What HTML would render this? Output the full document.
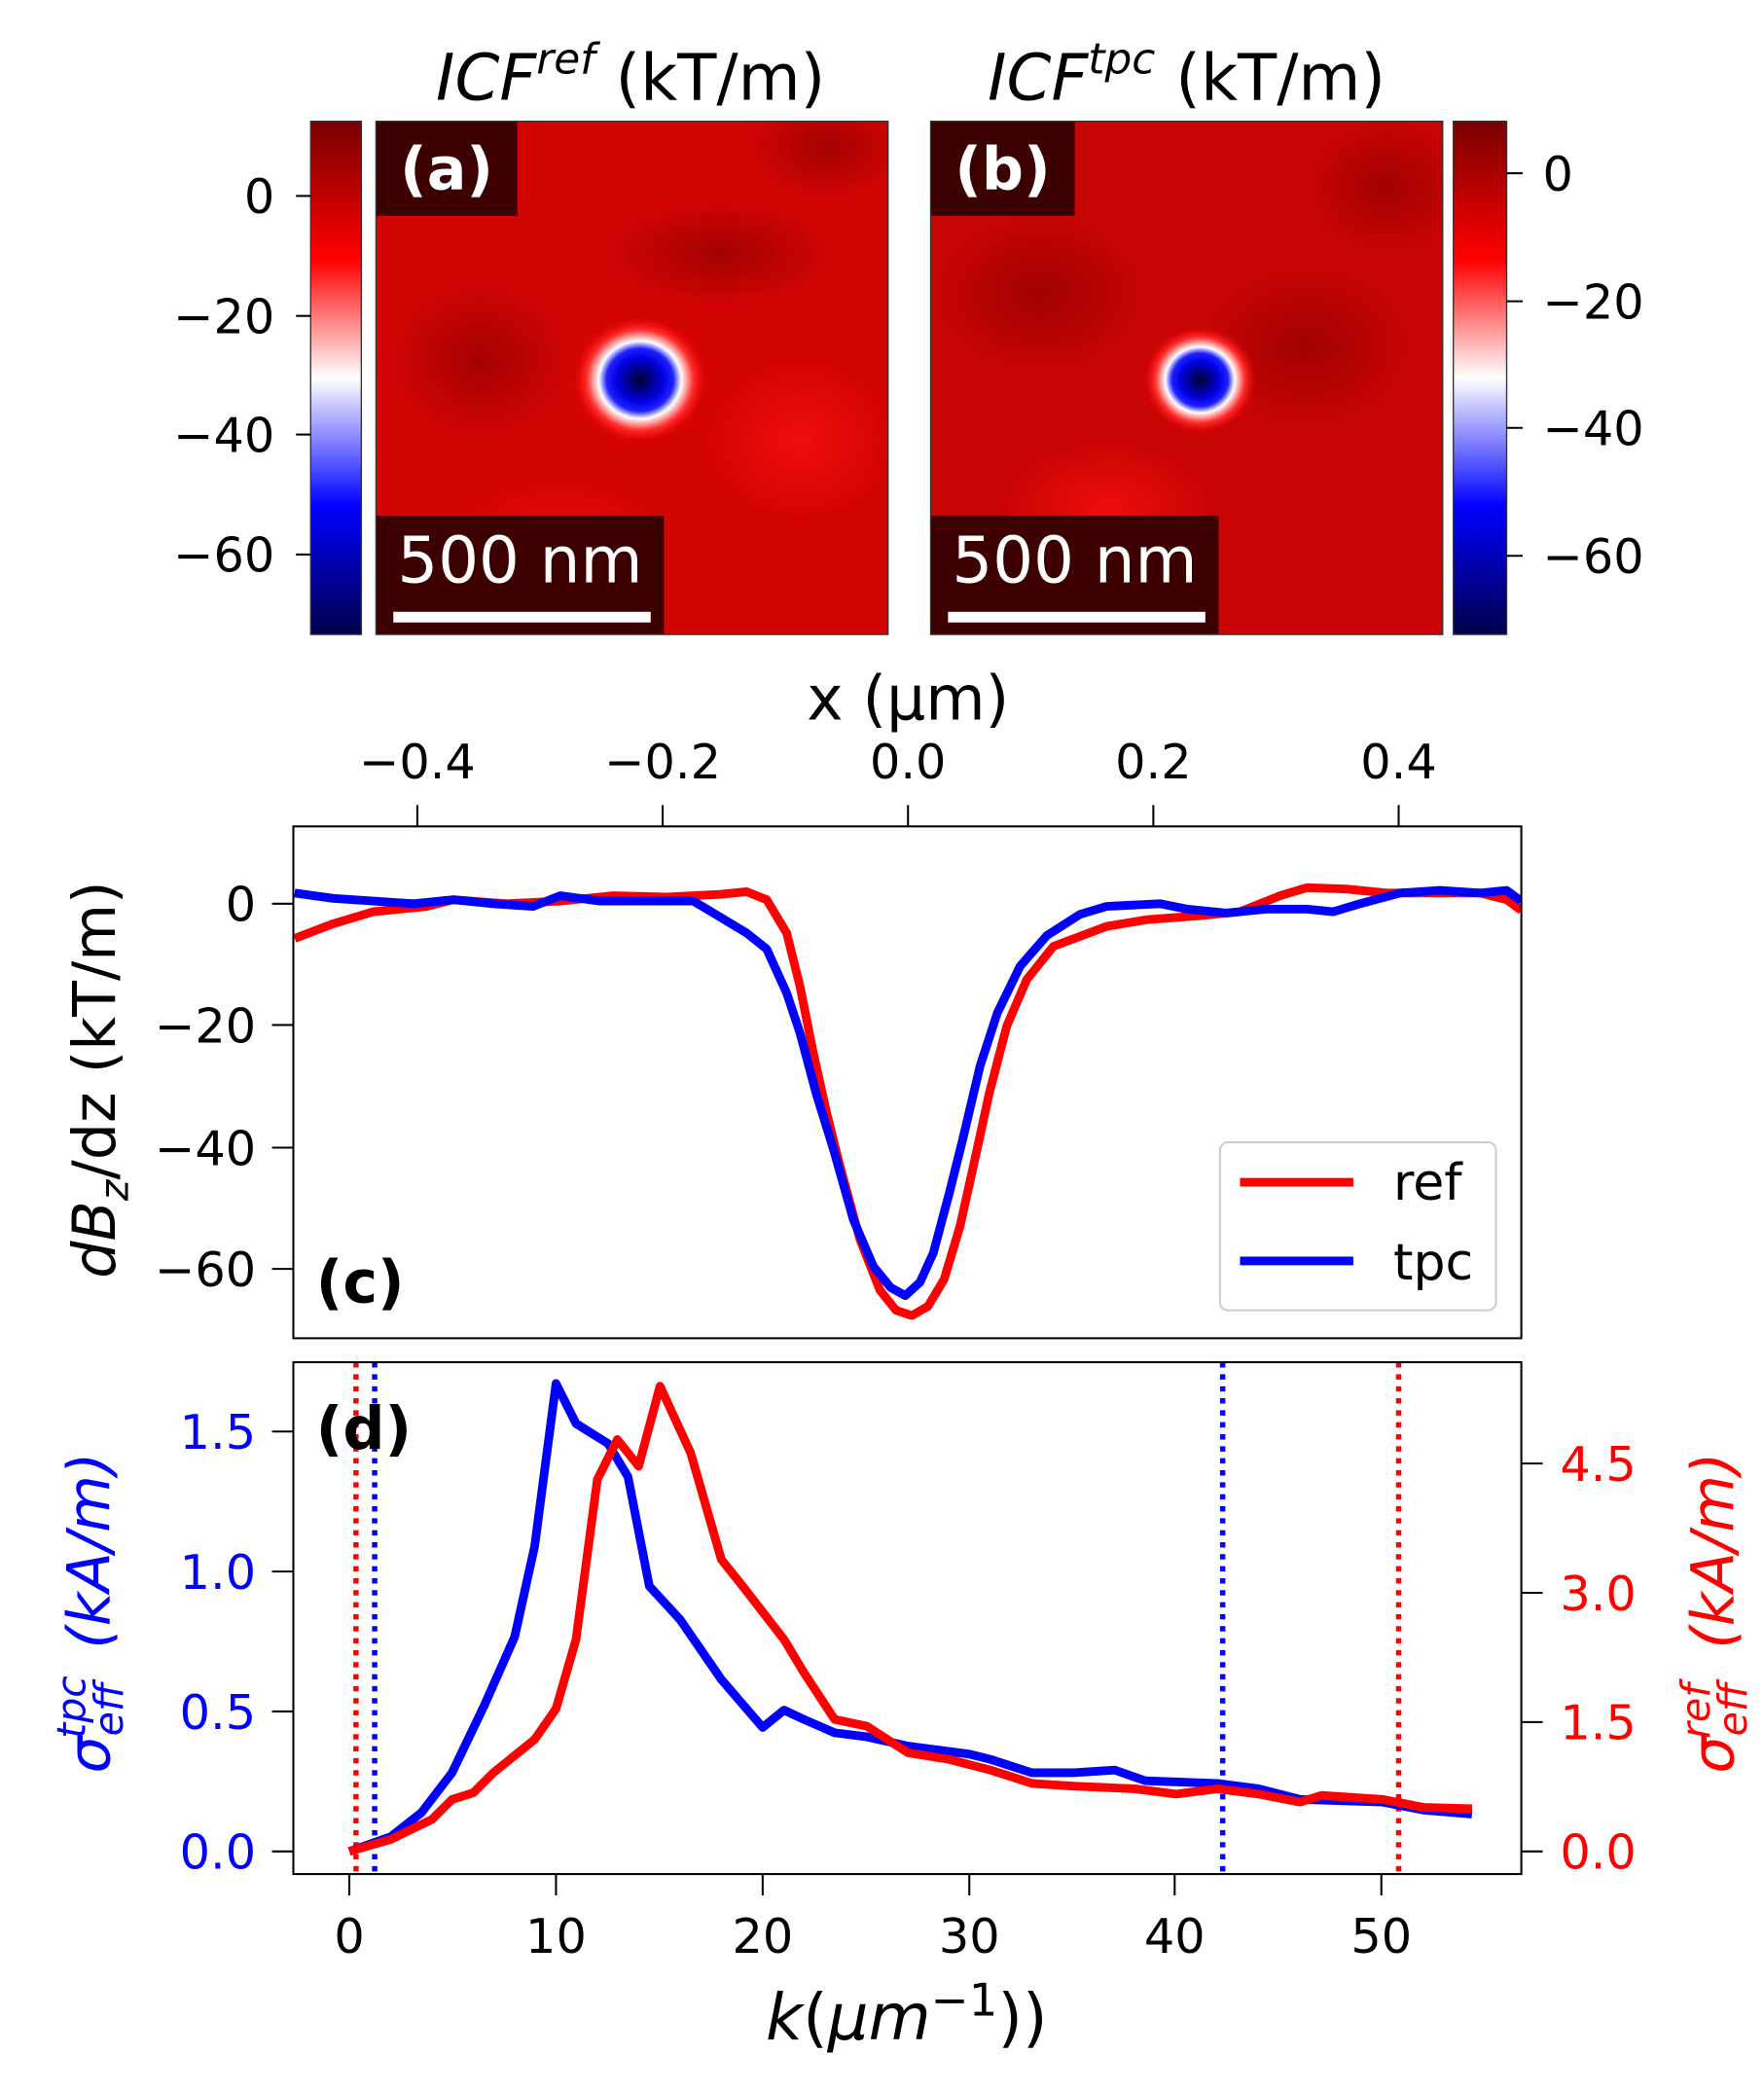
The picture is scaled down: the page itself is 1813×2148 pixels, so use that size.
<!DOCTYPE html>
<html><head><meta charset="utf-8"><style>
html,body{margin:0;padding:0;background:#fff}
svg{display:block}
text{font-family:"DejaVu Sans","Liberation Sans",sans-serif}
</style></head><body>
<svg width="1813" height="2148" viewBox="0 0 1323 1568" preserveAspectRatio="none" xmlns="http://www.w3.org/2000/svg">
<defs>
<linearGradient id="cb" x1="0" y1="0" x2="0" y2="1">
<stop offset="0" stop-color="#7a0000"/><stop offset="0.27" stop-color="#ff0000"/>
<stop offset="0.5" stop-color="#ffffff"/><stop offset="0.75" stop-color="#0000ff"/>
<stop offset="1" stop-color="#00004a"/></linearGradient>
<radialGradient id="dot">
<stop offset="0" stop-color="#000030"/><stop offset="0.35" stop-color="#0000e0"/>
<stop offset="0.5" stop-color="#2020ff"/><stop offset="0.62" stop-color="#ffffff"/>
<stop offset="0.8" stop-color="#ff3030"/><stop offset="1" stop-color="#ff0000" stop-opacity="0"/></radialGradient>
<radialGradient id="dk"><stop offset="0" stop-color="#900000" stop-opacity="0.7"/><stop offset="1" stop-color="#900000" stop-opacity="0"/></radialGradient>
<radialGradient id="lt"><stop offset="0" stop-color="#ff1010" stop-opacity="0.7"/><stop offset="1" stop-color="#ff1010" stop-opacity="0"/></radialGradient>
<clipPath id="ca"><rect x="282" y="91" width="384" height="385"/></clipPath>
<clipPath id="cbb"><rect x="698" y="91" width="384" height="385"/></clipPath>
</defs>

<!-- titles -->
<text x="473" y="75" font-size="48" text-anchor="middle"><tspan font-style="italic">ICF</tspan><tspan font-style="italic" font-size="32" dy="-20">ref</tspan><tspan dy="20"> (kT/m)</tspan></text>
<text x="890" y="75" font-size="48" text-anchor="middle"><tspan font-style="italic">ICF</tspan><tspan font-style="italic" font-size="32" dy="-20">tpc</tspan><tspan dy="20"> (kT/m)</tspan></text>

<!-- left colorbar -->
<rect x="233" y="91" width="38" height="385" fill="url(#cb)" stroke="#333" stroke-width="1"/>
<g stroke="#000" stroke-width="1.5"><line x1="222" y1="147" x2="233" y2="147"/><line x1="222" y1="237" x2="233" y2="237"/><line x1="222" y1="326" x2="233" y2="326"/><line x1="222" y1="416" x2="233" y2="416"/></g>
<g font-size="36" text-anchor="end"><text x="206" y="160">0</text><text x="206" y="250">−20</text><text x="206" y="339">−40</text><text x="206" y="429">−60</text></g>

<!-- image a -->
<g clip-path="url(#ca)">
<rect x="282" y="91" width="384" height="385" fill="#d20404"/>
<ellipse cx="540" cy="190" rx="90" ry="40" fill="url(#dk)"/>
<ellipse cx="360" cy="270" rx="70" ry="60" fill="url(#dk)"/>
<ellipse cx="620" cy="110" rx="60" ry="40" fill="url(#dk)"/>
<ellipse cx="420" cy="410" rx="80" ry="50" fill="url(#lt)"/>
<ellipse cx="600" cy="330" rx="70" ry="60" fill="url(#lt)"/>
<ellipse cx="480" cy="285" rx="50" ry="47" fill="url(#dot)"/>
<rect x="282" y="91" width="106" height="71" fill="#3d0000"/>
<text x="335" y="142" font-size="44" font-weight="bold" fill="#fff" text-anchor="middle">(a)</text>
<rect x="282" y="387" width="216" height="89" fill="#3d0000"/>
<text x="390" y="437" font-size="48" fill="#fff" text-anchor="middle">500 nm</text>
<rect x="295" y="459" width="193" height="8" fill="#fff"/>
</g>
<rect x="282" y="91" width="384" height="385" fill="none" stroke="#333" stroke-width="1"/>

<!-- image b -->
<g clip-path="url(#cbb)">
<rect x="698" y="91" width="384" height="385" fill="#c80404"/>
<ellipse cx="980" cy="260" rx="80" ry="60" fill="url(#dk)"/>
<ellipse cx="780" cy="220" rx="80" ry="60" fill="url(#dk)"/>
<ellipse cx="1040" cy="140" rx="60" ry="50" fill="url(#dk)"/>
<ellipse cx="830" cy="380" rx="80" ry="50" fill="url(#lt)"/>
<ellipse cx="900" cy="285" rx="42" ry="40" fill="url(#dot)"/>
<rect x="698" y="91" width="108" height="71" fill="#3d0000"/>
<text x="752" y="142" font-size="44" font-weight="bold" fill="#fff" text-anchor="middle">(b)</text>
<rect x="698" y="387" width="216" height="89" fill="#3d0000"/>
<text x="806" y="437" font-size="48" fill="#fff" text-anchor="middle">500 nm</text>
<rect x="711" y="459" width="193" height="8" fill="#fff"/>
</g>
<rect x="698" y="91" width="384" height="385" fill="none" stroke="#333" stroke-width="1"/>

<!-- right colorbar -->
<rect x="1090" y="91" width="40" height="385" fill="url(#cb)" stroke="#333" stroke-width="1"/>
<g stroke="#000" stroke-width="1.5"><line x1="1130" y1="130" x2="1142" y2="130"/><line x1="1130" y1="226" x2="1142" y2="226"/><line x1="1130" y1="321" x2="1142" y2="321"/><line x1="1130" y1="417" x2="1142" y2="417"/></g>
<g font-size="36"><text x="1157" y="143">0</text><text x="1157" y="239">−20</text><text x="1157" y="334">−40</text><text x="1157" y="430">−60</text></g>

<!-- panel c -->
<text x="681" y="540" font-size="46" text-anchor="middle">x (μm)</text>
<g font-size="36" text-anchor="middle"><text x="313" y="584">−0.4</text><text x="497" y="584">−0.2</text><text x="681" y="584">0.0</text><text x="865" y="584">0.2</text><text x="1049" y="584">0.4</text></g>
<g stroke="#000" stroke-width="1.5"><line x1="313" y1="604" x2="313" y2="620"/><line x1="497" y1="604" x2="497" y2="620"/><line x1="681" y1="604" x2="681" y2="620"/><line x1="865" y1="604" x2="865" y2="620"/><line x1="1049" y1="604" x2="1049" y2="620"/>
<line x1="204" y1="678" x2="220" y2="678"/><line x1="204" y1="769" x2="220" y2="769"/><line x1="204" y1="861" x2="220" y2="861"/><line x1="204" y1="952" x2="220" y2="952"/></g>
<g font-size="36" text-anchor="end"><text x="192" y="691">0</text><text x="192" y="782">−20</text><text x="192" y="874">−40</text><text x="192" y="965">−60</text></g>
<text transform="translate(86,810) rotate(-90)" font-size="44" text-anchor="middle"><tspan font-style="italic">dB</tspan><tspan font-style="italic" font-size="30" dy="10">z</tspan><tspan dy="-10">/dz (kT/m)</tspan></text>
<svg x="220" y="620" width="921" height="384" viewBox="220 620 921 384" overflow="hidden">
<polyline fill="none" stroke="#ff0000" stroke-width="6.5" stroke-linejoin="round" points="221,704 250,693 280,684 320,680 340,675 380,678 420,676 460,672 500,673 540,671 560,669 575,675 590,700 600,740 610,790 620,835 630,875 645,930 660,968 672,983 684,987 696,980 708,960 720,920 730,875 742,820 755,770 770,735 790,710 830,695 860,690 900,687 930,684 960,672 980,666 1010,667 1040,670 1080,670 1110,670 1130,675 1141,683"/>
<polyline fill="none" stroke="#0000ff" stroke-width="6.5" stroke-linejoin="round" points="221,670 250,674 280,676 310,678 340,675 370,678 400,680 420,672 450,676 490,676 520,676 540,688 560,700 575,712 590,745 600,775 612,820 625,862 640,915 655,950 668,966 679,972 690,962 700,940 712,895 722,855 735,800 748,760 765,725 785,702 810,686 830,680 870,678 890,682 920,685 950,682 980,682 1000,684 1020,678 1050,670 1080,668 1110,670 1130,668 1141,676"/>
</svg>
<rect x="220" y="620" width="921" height="384" fill="none" stroke="#000" stroke-width="1.5"/>
<rect x="915" y="857" width="207" height="126" rx="6" fill="#fff" stroke="#ccc" stroke-width="1.5"/>
<line x1="930" y1="887" x2="1015" y2="887" stroke="#ff0000" stroke-width="6.5"/>
<line x1="930" y1="946" x2="1015" y2="946" stroke="#0000ff" stroke-width="6.5"/>
<text x="1045" y="900" font-size="38">ref</text>
<text x="1045" y="960" font-size="38">tpc</text>
<text x="237" y="977" font-size="44" font-weight="bold">(c)</text>

<!-- panel d -->
<svg x="220" y="1022" width="921" height="384" viewBox="220 1022 921 384" overflow="hidden">
<g stroke-width="4" stroke-dasharray="4,5">
<line x1="267" y1="1022" x2="267" y2="1406" stroke="#ff0000"/>
<line x1="281" y1="1022" x2="281" y2="1406" stroke="#0000ff"/>
<line x1="917" y1="1022" x2="917" y2="1406" stroke="#0000ff"/>
<line x1="1049" y1="1022" x2="1049" y2="1406" stroke="#ff0000"/>
</g>
<polyline fill="none" stroke="#0000ff" stroke-width="6.5" stroke-linejoin="round" points="262,1389 293,1378 316,1360 339,1330 363,1280 386,1228 401,1160 417,1038 432,1068 456,1083 471,1108 487,1190 510,1215 541,1260 572,1296 588,1283 603,1290 626,1300 650,1303 681,1310 727,1316 743,1320 774,1330 805,1330 836,1328 859,1336 913,1338 944,1342 975,1350 1037,1352 1068,1358 1104,1361"/>
<polyline fill="none" stroke="#ff0000" stroke-width="6.5" stroke-linejoin="round" points="262,1389 293,1380 324,1365 339,1350 355,1345 370,1330 401,1305 417,1282 432,1230 448,1110 463,1080 479,1100 495,1040 518,1090 541,1170 557,1190 588,1230 603,1255 626,1290 650,1295 681,1315 712,1320 743,1328 774,1338 805,1340 851,1342 882,1346 913,1342 944,1346 975,1352 991,1347 1037,1350 1068,1356 1104,1357"/>
</svg>
<rect x="220" y="1022" width="921" height="384" fill="none" stroke="#000" stroke-width="1.5"/>
<g stroke="#000" stroke-width="1.5">
<line x1="262" y1="1406" x2="262" y2="1422"/><line x1="417" y1="1406" x2="417" y2="1422"/><line x1="572" y1="1406" x2="572" y2="1422"/><line x1="727" y1="1406" x2="727" y2="1422"/><line x1="881" y1="1406" x2="881" y2="1422"/><line x1="1036" y1="1406" x2="1036" y2="1422"/>
<line x1="204" y1="1389" x2="220" y2="1389"/><line x1="204" y1="1284" x2="220" y2="1284"/><line x1="204" y1="1179" x2="220" y2="1179"/><line x1="204" y1="1074" x2="220" y2="1074"/>
<line x1="1141" y1="1389" x2="1157" y2="1389"/><line x1="1141" y1="1292" x2="1157" y2="1292"/><line x1="1141" y1="1195" x2="1157" y2="1195"/><line x1="1141" y1="1098" x2="1157" y2="1098"/>
</g>
<g font-size="36" text-anchor="middle"><text x="262" y="1465">0</text><text x="417" y="1465">10</text><text x="572" y="1465">20</text><text x="727" y="1465">30</text><text x="881" y="1465">40</text><text x="1036" y="1465">50</text></g>
<g font-size="36" text-anchor="end" fill="#0000ff"><text x="192" y="1402">0.0</text><text x="192" y="1297">0.5</text><text x="192" y="1192">1.0</text><text x="192" y="1087">1.5</text></g>
<g font-size="36" fill="#ff0000"><text x="1170" y="1402">0.0</text><text x="1170" y="1305">1.5</text><text x="1170" y="1208">3.0</text><text x="1170" y="1111">4.5</text></g>
<text x="237" y="1087" font-size="44" font-weight="bold">(d)</text>
<text x="680" y="1530" font-size="48" text-anchor="middle"><tspan font-style="italic">k</tspan>(<tspan font-style="italic">μm</tspan><tspan font-size="34" dy="-18">−1</tspan><tspan dy="18">))</tspan></text>
<text transform="translate(82,1210) rotate(-90)" font-size="44" text-anchor="middle" fill="#0000ff"><tspan font-style="italic">σ</tspan><tspan font-style="italic" font-size="30" dy="10">eff</tspan><tspan font-style="italic" font-size="30" dx="-42" dy="-28">tpc</tspan><tspan font-style="italic" dy="18" dx="6"> (kA/m)</tspan></text>
<text transform="translate(1300,1210) rotate(-90)" font-size="44" text-anchor="middle" fill="#ff0000"><tspan font-style="italic">σ</tspan><tspan font-style="italic" font-size="30" dy="10">eff</tspan><tspan font-style="italic" font-size="30" dx="-42" dy="-28">ref</tspan><tspan font-style="italic" dy="18" dx="12"> (kA/m)</tspan></text>
</svg>
</body></html>
